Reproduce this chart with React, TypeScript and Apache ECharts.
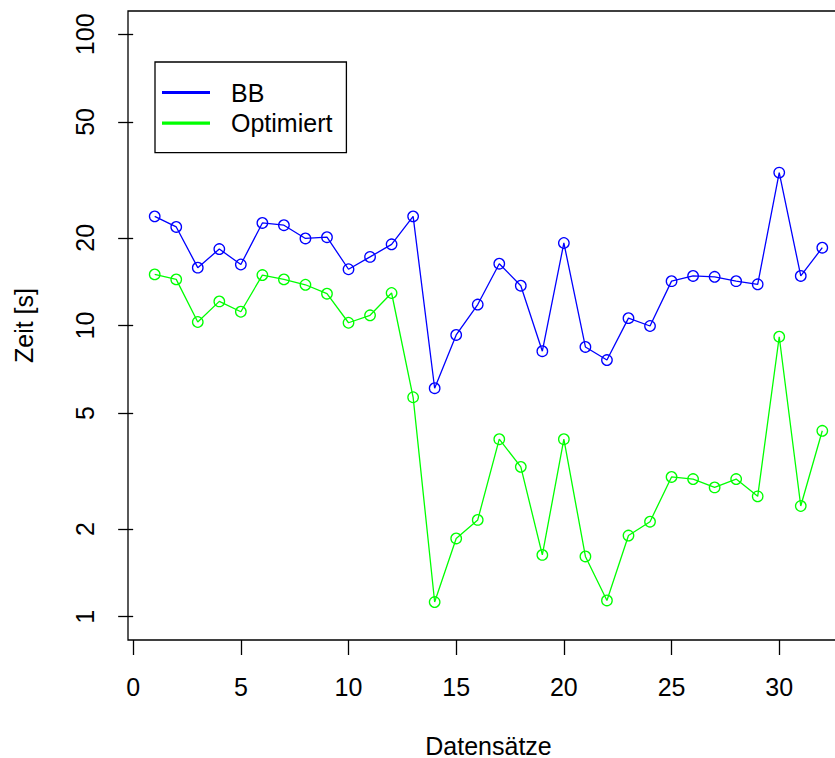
import React, { useEffect, useRef } from "react";
import * as echarts from "echarts";

// Dataset indices (x) and run times in seconds (log-scaled y)
const datasets = [
  1, 2, 3, 4, 5, 6, 7, 8, 9, 10, 11, 12, 13, 14, 15, 16,
  17, 18, 19, 20, 21, 22, 23, 24, 25, 26, 27, 28, 29, 30, 31, 32,
];

const bbTimes = [
  23.7, 21.8, 15.8, 18.3, 16.2, 22.5, 22.1, 19.9, 20.1, 15.6, 17.2, 19.0,
  23.7, 6.09, 9.28, 11.8, 16.3, 13.7, 8.16, 19.2, 8.44, 7.61, 10.6, 9.96,
  14.2, 14.8, 14.7, 14.2, 13.85, 33.5, 14.8, 18.5,
];

const optTimes = [
  14.98, 14.4, 10.28, 12.1, 11.15, 14.9, 14.4, 13.8, 12.86, 10.22, 10.84, 12.93,
  5.67, 1.123, 1.857, 2.15, 4.07, 3.27, 1.63, 4.07, 1.61, 1.137, 1.9, 2.12,
  3.02, 2.97, 2.78, 2.97, 2.59, 9.15, 2.4, 4.35,
];

const xTicks = [0, 5, 10, 15, 20, 25, 30];
const yTicks = [1, 2, 5, 10, 20, 50, 100];

const seriesNames = ["BB", "Optimiert"];
const seriesColors = ["#0000FF", "#00FF00"];

const FONT = "'Liberation Sans', Arial, Helvetica, sans-serif";

export default function App() {
  const ref = useRef<HTMLDivElement>(null);

  useEffect(() => {
    document.body.style.margin = "0";
    if (!ref.current) return;
    const chart = echarts.init(ref.current, null, { renderer: "svg" });

    const makeSeries = (name: string, values: number[], color: string) => ({
      name,
      type: "line",
      data: datasets.map((x, i) => [x, values[i]]),
      symbol: "circle",
      symbolSize: 10.5,
      showSymbol: true,
      lineStyle: { color, width: 1.3 },
      itemStyle: { color: "rgba(0,0,0,0)", borderColor: color, borderWidth: 1.3 },
      emphasis: { disabled: true },
      z: 3,
    });

    chart.setOption({
      animation: false,
      backgroundColor: "#ffffff",
      textStyle: { fontFamily: FONT, color: "#000" },
      grid: {
        left: 128,
        top: 11,
        width: 721,
        height: 629,
        outerBoundsMode: "none",
        containLabel: false,
        show: true,
        borderColor: "#000",
        borderWidth: 1.3,
        backgroundColor: "transparent",
      },
      legend: {
        left: 155,
        top: 62,
        orient: "vertical",
        data: seriesNames.map((n, i) => ({
          name: n,
          icon: "rect",
          itemStyle: { color: seriesColors[i] },
        })),
        itemWidth: 46,
        itemHeight: 1.2,
        itemGap: 5.7,
        padding: [18, 14, 17, 7],
        borderColor: "#000",
        borderWidth: 1.3,
        backgroundColor: "#fff",
        selectedMode: false,
        textStyle: {
          fontFamily: FONT,
          fontSize: 25,
          lineHeight: 25,
          color: "#000",
          padding: [0, 0, 0, 17],
        },
      },
      xAxis: {
        type: "value",
        min: -0.24,
        max: 33.24,
        name: "Datensätze",
        nameLocation: "middle",
        nameGap: 93,
        nameTextStyle: { fontFamily: FONT, fontSize: 25, color: "#000" },
        axisLine: { show: false },
        splitLine: { show: false },
        axisTick: {
          show: true,
          length: 15,
          customValues: xTicks,
          lineStyle: { color: "#000", width: 1.3 },
        },
        axisLabel: {
          customValues: xTicks,
          fontFamily: FONT,
          fontSize: 25,
          color: "#000",
          margin: 34,
        },
      },
      yAxis: {
        type: "log",
        logBase: 10,
        min: Math.pow(10, -0.08),
        max: Math.pow(10, 2.08),
        name: "Zeit [s]",
        nameLocation: "middle",
        nameGap: 92,
        nameRotate: 90,
        nameTextStyle: { fontFamily: FONT, fontSize: 25, color: "#000" },
        axisLine: { show: false },
        splitLine: { show: false },
        minorTick: { show: false },
        axisTick: {
          show: true,
          length: 15,
          customValues: yTicks,
          lineStyle: { color: "#000", width: 1.3 },
        },
        axisLabel: {
          customValues: yTicks,
          rotate: 90,
          fontFamily: FONT,
          fontSize: 25,
          color: "#000",
          margin: 31,
          formatter: (v: number) => String(Math.round(v)),
        },
      },
      series: [
        makeSeries(seriesNames[0], bbTimes, seriesColors[0]),
        makeSeries(seriesNames[1], optTimes, seriesColors[1]),
      ],
    });

    return () => chart.dispose();
  }, []);

  return <div ref={ref} style={{ width: 835, height: 758 }} />;
}
